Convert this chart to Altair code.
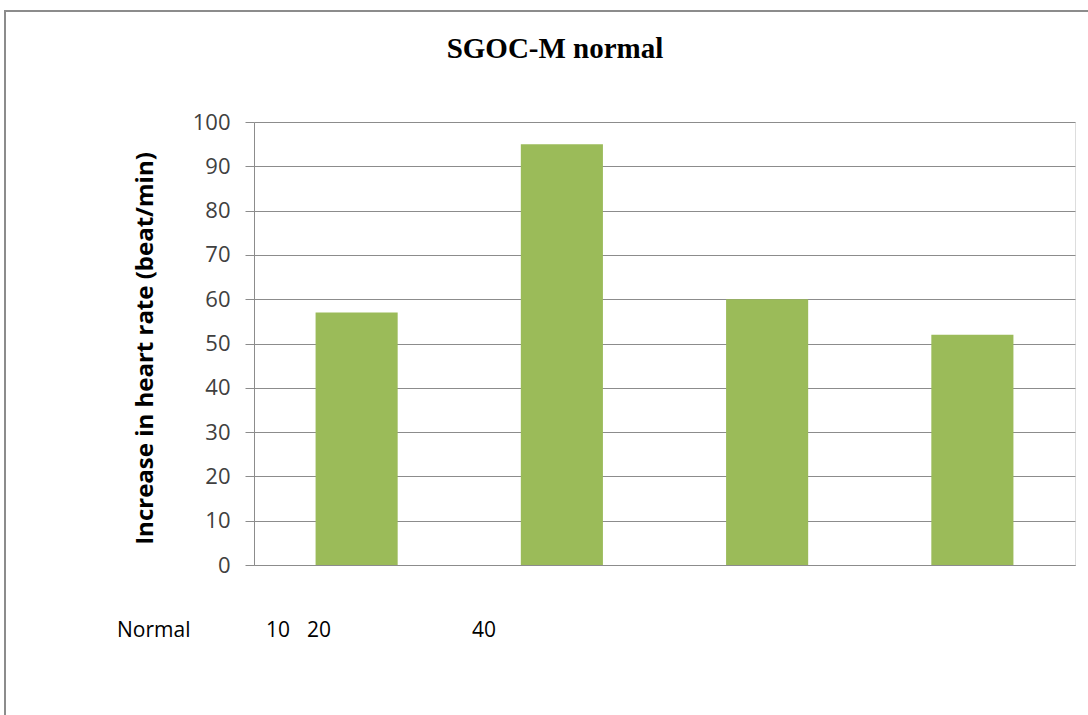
import altair as alt
import pandas as pd

# Heart-rate increase per group
groups = ["G1", "G2", "G3", "G4"]
values = [57, 95, 60, 52]

# Stray labels printed under the chart
note_labels = ["Normal", "10", "20", "40"]

y_ticks = list(range(0, 101, 10))

GREEN = "#9BBB59"
GRID = "#8C8C8C"
LABEL_FONT = "Open Sans"

df = pd.DataFrame({"group": groups, "value": values})

W, H = 821, 443

bars = alt.Chart(df).mark_bar(color=GREEN).encode(
    x=alt.X(
        "group:N",
        sort=groups,
        scale=alt.Scale(paddingInner=0.6, paddingOuter=0.3),
        axis=alt.Axis(labels=False, ticks=False, title=None, domainColor=GRID,
                      domainWidth=1),
    ),
    y=alt.Y(
        "value:Q",
        scale=alt.Scale(domain=[0, 100], nice=False),
        axis=alt.Axis(
            values=y_ticks,
            grid=True,
            gridColor=GRID,
            gridWidth=1,
            tickColor=GRID,
            tickSize=9,
            domainColor=GRID,
            labelPadding=15,
            labelFont=LABEL_FONT,
            labelFontSize=22,
            labelColor="#404040",
            title="Increase in heart rate (beat/min)",
            titleFont=LABEL_FONT,
            titleFontSize=24,
            titleFontWeight="bold",
            titleColor="#000000",
            titleAngle=270,
            titleAlign="center",
            titleBaseline="middle",
            titleX=-109,
            titleY=226,
        ),
    ),
)

# Outer frame of the chart
frame = alt.Chart(pd.DataFrame({"k": [0]})).mark_rect(
    fill=None, stroke="#8C8C8C", strokeWidth=2
).encode(
    x=alt.value(-249), x2=alt.value(900),
    y=alt.value(-111), y2=alt.value(700),
)

title = alt.Chart(pd.DataFrame({"t": ["SGOC-M normal"]})).mark_text(
    font="Liberation Serif", fontSize=29, fontWeight="bold", color="#000000",
    align="center", baseline="alphabetic"
).encode(text="t:N", x=alt.value(301), y=alt.value(-64))

note_x = [-137, 12, 53, 218]
notes = []
for lab, px in zip(note_labels, note_x):
    notes.append(
        alt.Chart(pd.DataFrame({"t": [lab]})).mark_text(
            font=LABEL_FONT, fontSize=21, color="#000000",
            align="left", baseline="alphabetic"
        ).encode(text="t:N", x=alt.value(px), y=alt.value(515))
    )

chart = alt.layer(frame, bars, title, *notes).properties(
    width=W, height=H,
    autosize=alt.AutoSizeParams(type="none"),
    padding={"left": 254, "top": 122, "right": 13, "bottom": 150},
).configure_view(stroke=None).configure(background="white")

chart.save("out.html", embed_options={"renderer": "svg", "actions": False})
